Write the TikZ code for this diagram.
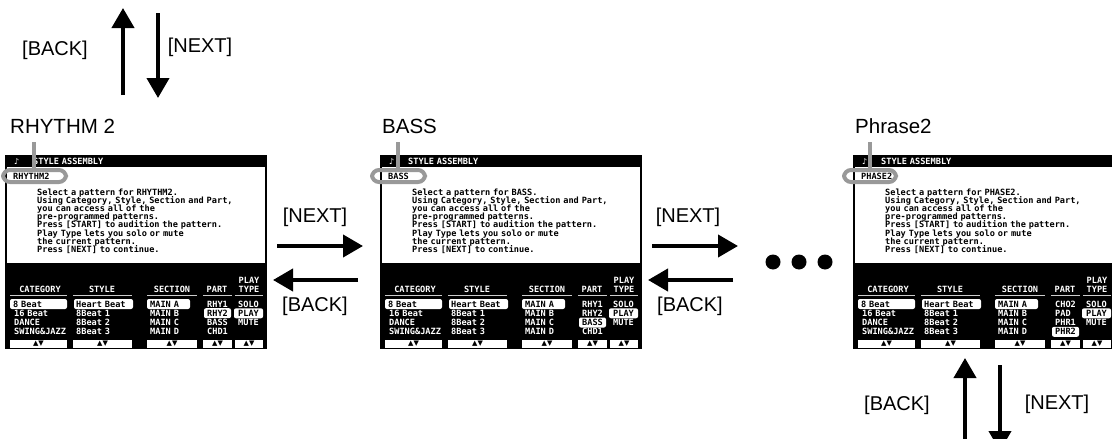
\documentclass[tikz,border=0pt]{standalone}
\usepackage{fontspec}
\setmainfont{Liberation Sans}
\newfontfamily\lcdfont{DejaVu Sans Mono}[WordSpace=0.55]
\newfontfamily\lcdsym{DejaVu Sans}
\newcommand\lcdtight{\setlength{\lineskiplimit}{-20pt}\setlength{\lineskip}{0pt}}
\usetikzlibrary{arrows.meta}
\tikzset{
  bigarrow/.style={line width=4pt, -{Triangle[length=20pt,width=22pt]}},
  biglabel/.style={font=\fontsize{20}{24}\selectfont, inner sep=0pt},
  scrlabel/.style={font=\fontsize{20.5}{24}\selectfont, inner sep=0pt, anchor=west},
  lcd/.style={font=\lcdfont\bfseries\fontsize{8.6}{8.1}\selectfont, inner sep=0pt, text height=6.2pt, text depth=0pt, anchor=west},
  lcdw/.style={lcd, text=white},
  lcdc/.style={lcdw, anchor=center},
  lcdpar/.style={font=\lcdfont\bfseries\fontsize{8.6}{8.15}\selectfont\lcdtight, inner sep=0pt, align=left, anchor=north west},
  lcdline/.style={draw=black!20, line width=1.6pt},
  hlbox/.style={fill=white, rounded corners=2pt},
  keybox/.style={fill=white},
  keytxt/.style={font=\lcdsym\fontsize{7}{7}\selectfont, inner sep=0pt, text=black},
  callout/.style={draw=black!40, line width=4pt, rounded corners=7pt},
  calloutline/.style={draw=black!40, line width=4pt},
  bigdot/.style={circle, fill=black, minimum size=15pt, inner sep=0pt},
}
% #1 x0, #2 id, #3 name, #4 callout left, #5 callout right, #6 callout line x
\newcommand\lcdscreen[6]{%
\begin{scope}[shift={(#1,0)}]
  \fill[black] (0,155) rectangle (262,349);
  \fill[white] (2,167) rectangle (260,263);
  \node[lcdw, font=\lcdsym\fontsize{8}{8}\selectfont] (#2icon) at (9,161) {♪};
  \node[lcdw] (#2title) at (28,161) {STYLE ASSEMBLY};
  \node[lcd] (#2name) at (8,176.5) {#3};
  \node[lcdpar] (#2par) at (32,188.6) {Select a pattern for #3.\\Using Category, Style, Section and Part,\\you can access all of the\\pre-programmed patterns.\\Press [START] to audition the pattern.\\Play Type lets you solo or mute\\the current pattern.\\Press [NEXT] to continue.};
  % headers
  \node[lcdc] (#2hcat) at (35,289.5) {CATEGORY};
  \node[lcdc] (#2hsty) at (97,289.5) {STYLE};
  \node[lcdc] (#2hsec) at (167,289.5) {SECTION};
  \node[lcdc] (#2hpart) at (212,289.5) {PART};
  \node[lcdc] (#2hplay) at (244,280) {PLAY};
  \node[lcdc] (#2htype) at (244,289.5) {TYPE};
  \draw[lcdline] (5,295.5) -- (62,295.5);
  \draw[lcdline] (68,295.5) -- (127,295.5);
  \draw[lcdline] (142,295.5) -- (192,295.5);
  \draw[lcdline] (198,295.5) -- (227,295.5);
  \draw[lcdline] (230,295.5) -- (258,295.5);
  % highlight boxes
  \fill[hlbox] (5,299) rectangle (62,309);
  \fill[hlbox] (69,299) rectangle (128,309);
  \fill[hlbox] (142,299) rectangle (185,309);
  \fill[hlbox] (229,308.3) rectangle (258,318.3);
  % category
  \node[lcd] (#2c1) at (8,304) {8 Beat};
  \node[lcdw] (#2c2) at (9,313.2) {16 Beat};
  \node[lcdw] (#2c3) at (9,322.5) {DANCE};
  \node[lcdw] (#2c4) at (9,331.8) {SWING\&JAZZ};
  % style
  \node[lcd] (#2s1) at (71,304) {Heart Beat};
  \node[lcdw] (#2s2) at (71,313.2) {8Beat 1};
  \node[lcdw] (#2s3) at (71,322.5) {8Beat 2};
  \node[lcdw] (#2s4) at (71,331.8) {8Beat 3};
  % section
  \node[lcd] (#2e1) at (145,304) {MAIN A};
  \node[lcdw] (#2e2) at (145,313.2) {MAIN B};
  \node[lcdw] (#2e3) at (145,322.5) {MAIN C};
  \node[lcdw] (#2e4) at (145,331.8) {MAIN D};
  % play type
  \node[lcdw] (#2p1) at (233,304) {SOLO};
  \node[lcd] (#2p2) at (233,313.2) {PLAY};
  \node[lcdw] (#2p3) at (233,322.5) {MUTE};
  % key boxes
  \fill[keybox] (5,340) rectangle (62,347.5);
  \fill[keybox] (68,340) rectangle (127,347.5);
  \fill[keybox] (142,340) rectangle (192,347.5);
  \fill[keybox] (198,340) rectangle (227,347.5);
  \fill[keybox] (230,340) rectangle (258,347.5);
  \node[keytxt] (#2k1) at (33.5,343.8) {▲▼};
  \node[keytxt] (#2k2) at (97.5,343.8) {▲▼};
  \node[keytxt] (#2k3) at (167,343.8) {▲▼};
  \node[keytxt] (#2k4) at (212.5,343.8) {▲▼};
  \node[keytxt] (#2k5) at (244,343.8) {▲▼};
  % callout
  \draw[callout] (#4,170) rectangle (#5,182);
  \draw[calloutline] (#6,142) -- (#6,168);
\end{scope}}
% #1 id, #2 x0, #3-#6 items, #7 y of highlight, #8 highlighted text
\newcommand\partcol[8]{%
\begin{scope}[shift={(#2,0)}]
  \node[lcdw] (#1r1) at (202,304) {#3};
  \node[lcdw] (#1r2) at (202,313.2) {#4};
  \node[lcdw] (#1r3) at (202,322.5) {#5};
  \node[lcdw] (#1r4) at (202,331.8) {#6};
  \fill[hlbox] (199,#7-5) rectangle (226,#7+5);
  \node[lcd] (#1rh) at (202,#7) {#8};
\end{scope}}

\begin{document}
\begin{tikzpicture}[x=1pt,y=-1pt]
\useasboundingbox (0,0) rectangle (1112,439);

% screens
\lcdscreen{5}{a}{RHYTHM2}{-2}{61}{29}
\partcol{a}{5}{RHY1}{RHY2}{BASS}{CHD1}{313.2}{RHY2}
\lcdscreen{380}{b}{BASS}{-8}{45}{18}
\partcol{b}{380}{RHY1}{RHY2}{BASS}{CHD1}{322.5}{BASS}
\lcdscreen{853}{c}{PHASE2}{-9}{43}{17}
\partcol{c}{853}{CHO2}{PAD}{PHR1}{PHR2}{331.8}{PHR2}

% screen titles
\node[scrlabel] (lab1) at (10,126) {RHYTHM 2};
\node[scrlabel] (lab2) at (382,126) {BASS};
\node[scrlabel] (lab3) at (855,126) {Phrase2};

% top vertical arrows
\coordinate (tu0) at (123,95);
\coordinate (tu1) at (123,8);
\coordinate (td0) at (158,13);
\coordinate (td1) at (158,98);
\draw[bigarrow] (tu0) -- (tu1);
\draw[bigarrow] (td0) -- (td1);
\node[biglabel] (tback) at (55,50) {[BACK]};
\node[biglabel] (tnext) at (200,47) {[NEXT]};

% horizontal arrows 1-2
\coordinate (n1a) at (277,246);
\coordinate (n1b) at (363,246);
\coordinate (b1a) at (358,280);
\coordinate (b1b) at (273,280);
\draw[bigarrow] (n1a) -- (n1b);
\draw[bigarrow] (b1a) -- (b1b);
\node[biglabel] (next1) at (315,217) {[NEXT]};
\node[biglabel] (back1) at (315,306) {[BACK]};

% horizontal arrows 2-3
\coordinate (n2a) at (652,246);
\coordinate (n2b) at (738,246);
\coordinate (b2a) at (733,280);
\coordinate (b2b) at (648,280);
\draw[bigarrow] (n2a) -- (n2b);
\draw[bigarrow] (b2a) -- (b2b);
\node[biglabel] (next2) at (688,217) {[NEXT]};
\node[biglabel] (back2) at (690,306) {[BACK]};

% dots
\node[bigdot] (dot1) at (773,262) {};
\node[bigdot] (dot2) at (799,262) {};
\node[bigdot] (dot3) at (825,262) {};

% bottom vertical arrows
\coordinate (bu0) at (965,445);
\coordinate (bu1) at (965,358);
\coordinate (bd0) at (1000,365);
\coordinate (bd1) at (1000,451);
\draw[bigarrow] (bu0) -- (bu1);
\draw[bigarrow] (bd0) -- (bd1);
\node[biglabel] (bback) at (897,405) {[BACK]};
\node[biglabel] (bnext) at (1057,404) {[NEXT]};
\end{tikzpicture}
\end{document}
